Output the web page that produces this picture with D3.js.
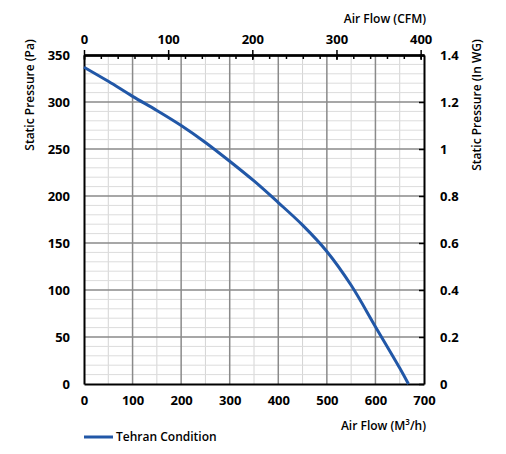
<!DOCTYPE html>
<html>
<head>
<meta charset="utf-8">
<script src="https://cdn.jsdelivr.net/npm/d3@7"></script>
<style>
  html, body { margin: 0; padding: 0; background: #fff; overflow: hidden; }
  svg { display: block; }
  text { font-family: "Open Sans", sans-serif; fill: #000; }
</style>
</head>
<body>
<svg id="container" width="506" height="454"></svg>
<script>
// data
var flowM3h = [0, 50, 100, 150, 200, 250, 300, 350, 400, 450, 500, 550, 600, 650, 668];
var pressurePa = [337, 322, 306, 291, 275, 257, 237, 216, 193, 169, 141, 105, 61, 17, 0];
var seriesName = 'Tehran Condition';

var bottomTicks = [0, 100, 200, 300, 400, 500, 600, 700];
var leftTicks = [0, 50, 100, 150, 200, 250, 300, 350];
var topTicks = [0, 100, 200, 300, 400];
var rightTicks = [0, 0.2, 0.4, 0.6, 0.8, 1, 1.2, 1.4];

// plot box, picked to line up with the picture
var margin = {top: 55, right: 82, bottom: 70, left: 84};
var innerWidth = 506 - margin.left - margin.right;
var innerHeight = 454 - margin.top - margin.bottom;

var x = d3.scaleLinear().domain([0, 700]).range([0, innerWidth]);
var y = d3.scaleLinear().domain([0, 350]).range([innerHeight, 0]);
var xTop = d3.scaleLinear().domain([0, 404]).range([0, innerWidth]); //CFM
var yRight = d3.scaleLinear().domain([0, 1.4]).range([innerHeight, 0]); //in WG

var svg = d3.select('#container');
svg.append('rect').attr('width', 506).attr('height', 454).attr('fill', '#fff');

var chart = svg.append('g')
    .attr('transform', `translate(${margin.left}, ${margin.top})`);

//grid - minor first so major sits on top
var grid = chart.append('g');
grid.selectAll('.vminor')
    .data(d3.range(50, 700, 100))
  .enter().append('line')
    .attr('x1', d => x(d)).attr('x2', d => x(d))
    .attr('y1', 0).attr('y2', innerHeight)
    .attr('stroke', '#d4d4d4').attr('stroke-width', 1);
grid.selectAll('.hminor')
    .data(d3.range(10, 350, 10).filter(d => d % 50 != 0))
  .enter().append('line')
    .attr('x1', 0).attr('x2', innerWidth)
    .attr('y1', d => y(d)).attr('y2', d => y(d))
    .attr('stroke', '#dcdcdc').attr('stroke-width', 1);
grid.selectAll('.vmajor')
    .data(bottomTicks.slice(1, -1))
  .enter().append('line')
    .attr('x1', d => x(d)).attr('x2', d => x(d))
    .attr('y1', 0).attr('y2', innerHeight)
    .attr('stroke', '#8a8a8a').attr('stroke-width', 1.5);
grid.selectAll('.hmajor')
    .data(leftTicks.slice(1, -1))
  .enter().append('line')
    .attr('x1', 0).attr('x2', innerWidth)
    .attr('y1', d => y(d)).attr('y2', d => y(d))
    .attr('stroke', '#8a8a8a').attr('stroke-width', 1.5);

//axes
function styleAxis(g){
  g.select('.domain').attr('stroke', '#000').attr('stroke-width', 2);
  g.selectAll('.tick line').attr('stroke', '#000').attr('stroke-width', 1.5);
  g.selectAll('text').style('font-size', '13px').style('font-weight', 700).attr('fill', '#000');
}

chart.append('g')
    .attr('transform', `translate(0, ${innerHeight})`)
    .call(d3.axisBottom(x).tickValues(bottomTicks).tickSize(0).tickPadding(12).tickSizeOuter(0))
    .call(styleAxis);

chart.append('g')
    .call(d3.axisLeft(y).tickValues(leftTicks).tickSize(0).tickPadding(14).tickSizeOuter(0))
    .call(styleAxis);

chart.append('g')
    .attr('transform', `translate(${innerWidth}, 0)`)
    .call(d3.axisRight(yRight).tickValues(rightTicks).tickSize(-5).tickPadding(16).tickSizeOuter(0)
      .tickFormat(d3.format('~g')))
    .call(styleAxis);

//top CFM axis: minor ticks inward, major ticks crossing the line
chart.append('g')
    .call(d3.axisTop(xTop).tickValues(d3.range(0, 401, 20)).tickSize(-4).tickFormat('').tickSizeOuter(0))
    .call(styleAxis);
chart.append('g')
    .call(d3.axisTop(xTop).tickValues(topTicks).tickSize(-5).tickFormat('').tickSizeOuter(0))
    .call(styleAxis);
chart.append('g')
    .call(d3.axisTop(xTop).tickValues(topTicks).tickSize(5).tickPadding(6).tickSizeOuter(0))
    .call(styleAxis);

//axis titles
chart.append('text')
    .attr('text-anchor', 'end')
    .attr('x', innerWidth + 2)
    .attr('y', -32)
    .style('font-size', '12px').style('font-weight', 600)
    .text('Air Flow (CFM)');

var bt = chart.append('text')
    .attr('text-anchor', 'end')
    .attr('x', innerWidth + 2)
    .attr('y', innerHeight + 46)
    .style('font-size', '12px').style('font-weight', 600);
bt.append('tspan').text('Air Flow (M');
bt.append('tspan').attr('dy', -5).style('font-size', '8px').text('3');
bt.append('tspan').attr('dy', 5).text('/h)');

chart.append('text')
    .attr('text-anchor', 'middle')
    .attr('transform', 'rotate(-90)')
    .attr('x', -(95 - margin.top))
    .attr('y', -50)
    .style('font-size', '12px').style('font-weight', 600)
    .text('Static Pressure (Pa)');

chart.append('text')
    .attr('text-anchor', 'middle')
    .attr('transform', 'rotate(-90)')
    .attr('x', -(105 - margin.top))
    .attr('y', innerWidth + 57)
    .style('font-size', '12px').style('font-weight', 600)
    .text('Static Pressure (In WG)');

//the curve
var line = d3.line()
    .x((d, i) => x(flowM3h[i]))
    .y(d => y(d))
    .curve(d3.curveCatmullRom.alpha(0.5));

chart.append('path')
    .datum(pressurePa)
    .attr('d', line)
    .attr('fill', 'none')
    .attr('stroke', '#2157a7')
    .attr('stroke-width', 3);

//legend
var legend = svg.append('g').attr('transform', 'translate(84, 437)');
legend.append('line')
    .attr('x1', 0).attr('x2', 29)
    .attr('stroke', '#2157a7').attr('stroke-width', 3);
legend.append('text')
    .attr('x', 32).attr('dy', '0.35em')
    .style('font-size', '12px').style('font-weight', 600)
    .text(seriesName);
</script>
</body>
</html>
